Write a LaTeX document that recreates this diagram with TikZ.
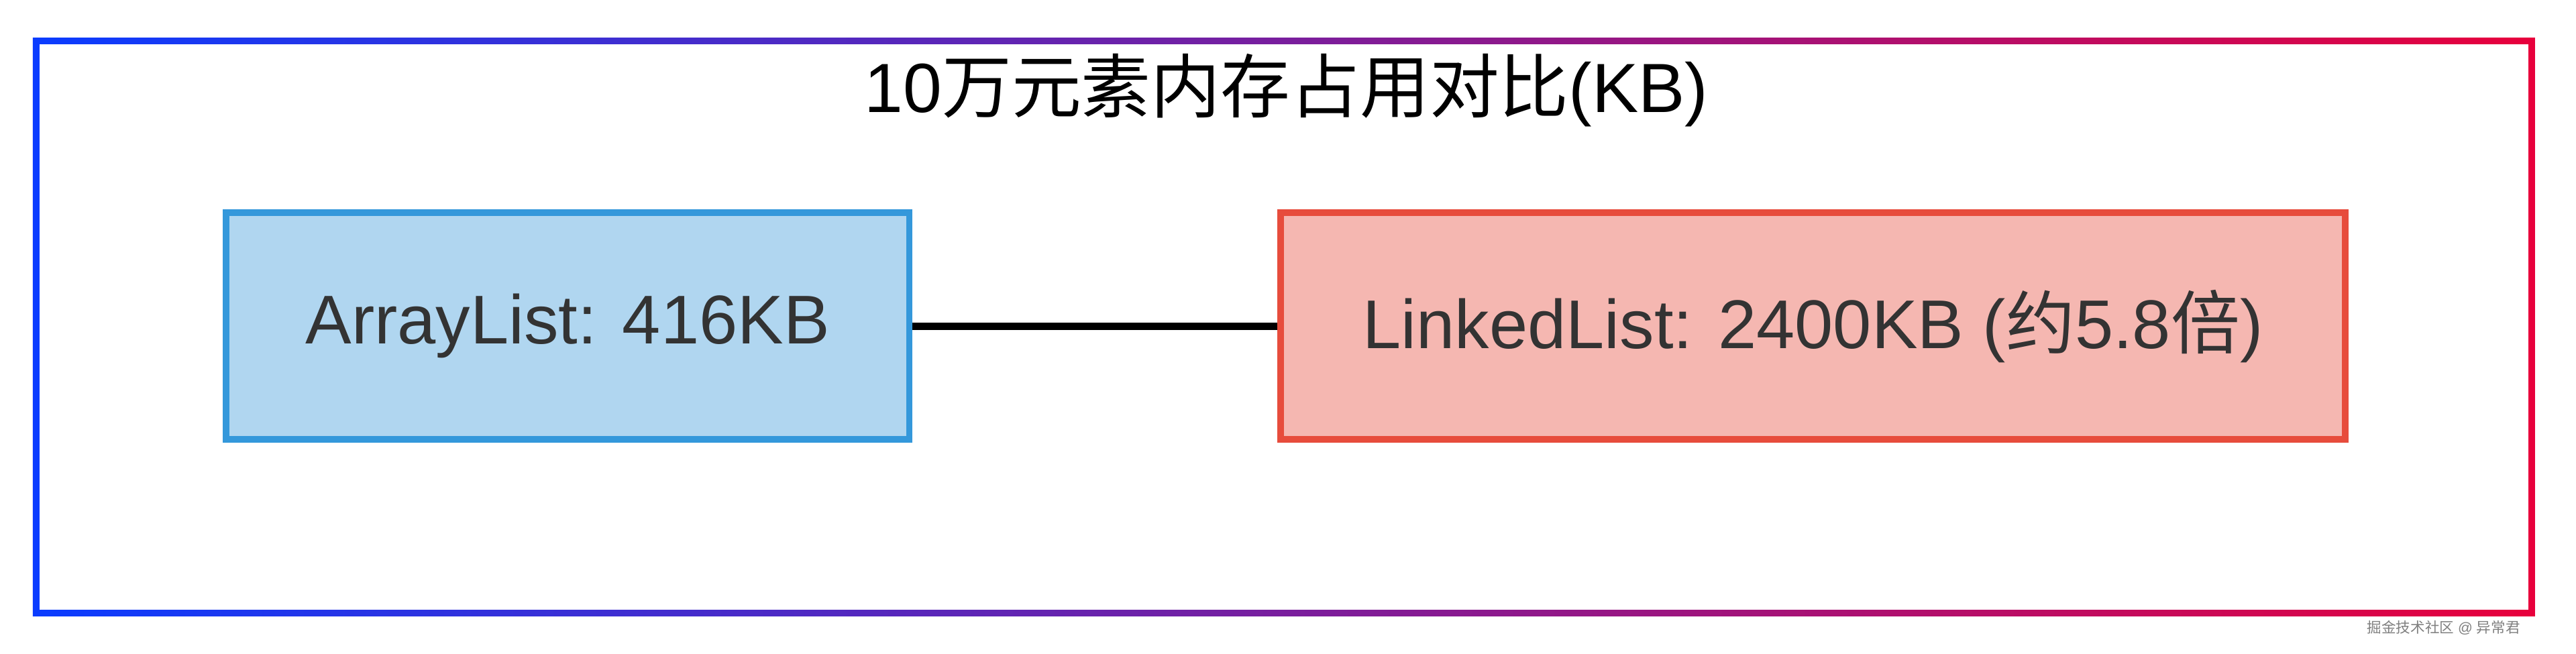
\documentclass[tikz,border=0pt]{standalone}
\usepackage{fontspec}
\setmainfont{Liberation Sans}
\newfontfamily\cjk{Noto Sans CJK SC}
\definecolor{bluefill}{HTML}{B0D6F0}
\definecolor{blueline}{HTML}{3498DB}
\definecolor{redfill}{HTML}{F5B7B1}
\definecolor{redline}{HTML}{E74C3C}
\definecolor{txt}{HTML}{333333}
\definecolor{gl}{HTML}{0A3CFF}
\definecolor{gr}{HTML}{E8003C}
\begin{document}
\begin{tikzpicture}[x=0.5pt,y=-0.5pt,
  box/.style={draw, line width=2pt, minimum width=208pt, minimum height=69pt, inner sep=0pt, text=txt, font=\fontsize{21}{23}\selectfont}]
\useasboundingbox (0,0) rectangle (1568,398);
\fill[white] (0,0) rectangle (1568,398);
\shade[left color=gl, right color=gr] (20,23) rectangle (1543,375);
\fill[white] (24,27) rectangle (1539,371);
\node[font=\fontsize{21.2}{23}\selectfont] (title) at (783,55) {10{\cjk 万元素内存占用对比}(KB)};
\node[box, fill=bluefill, draw=blueline, minimum width=208pt] (a) at (345.5,198.5) {ArrayList: 416KB};
\node[box, fill=redfill, draw=redline, minimum width=324pt] (b) at (1103.5,198.5) {LinkedList: 2400KB ({\cjk 约}5.8{\cjk 倍})};
\draw[line width=2.2pt] (a) -- (b);
\node[anchor=east, text=gray, font=\fontsize{4.4}{5}\selectfont] (wm) at (1541,382) {{\cjk 掘金技术社区} @ {\cjk 异常君}};
\end{tikzpicture}
\end{document}
